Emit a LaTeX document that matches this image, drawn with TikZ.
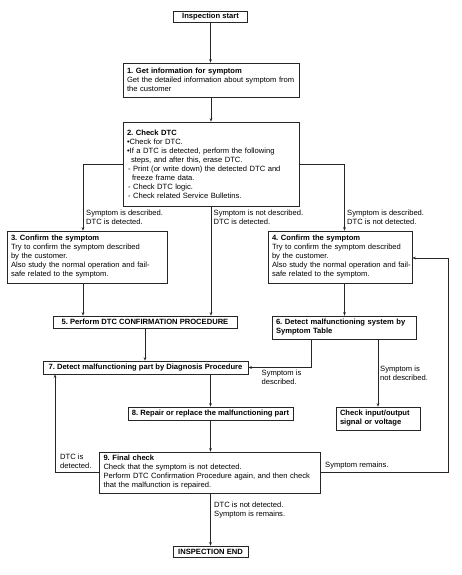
\documentclass[tikz,border=0pt]{standalone}
\usepackage{fontspec}
\setmainfont{Liberation Sans}
\usetikzlibrary{arrows.meta}
\newcommand{\nbr}[1]{\mbox{#1}}
\begin{document}
\frenchspacing
\begin{tikzpicture}[x=1pt,y=-1pt,
  font=\fontsize{7.6}{9}\selectfont,
  box/.style={draw=black!85, line width=0.6pt, inner xsep=4pt, inner ysep=0pt, align=left, anchor=center},
  cbox/.style={draw=black!85, line width=0.6pt, inner xsep=0pt, inner ysep=0pt, align=center, anchor=center, font=\fontsize{7.6}{9}\selectfont\bfseries},
  lbl/.style={anchor=west, inner sep=0pt, align=left},
  arr/.style={draw=black!85, line width=0.6pt, -{Stealth[length=3.5pt,width=2.6pt]}},
  ln/.style={draw=black!85, line width=0.6pt}
]
\useasboundingbox (0,0) rectangle (461,575);

% nodes
\node[cbox, minimum width=74pt, minimum height=11pt] (start) at (210.5,16.5) {Inspection start};
\node[box, text width=168pt, minimum height=34pt] (b1) at (211,80)
  {\nbr{\textbf{1. Get information for symptom}}\\\nbr{Get the detailed information about symptom from}\\the customer};
\node[box, text width=168pt, minimum height=84pt] (b2) at (211,164)
  {\textbf{2. Check DTC}\\•Check for DTC.\\\nbr{•If a DTC is detected, perform the following}\\\nbr{\hspace*{4pt}steps, and after this, erase DTC.}\\\nbr{\hspace*{1pt}- Print (or write down) the detected DTC and}\\\nbr{\hspace*{5pt}freeze frame data.}\\\nbr{\hspace*{1pt}- Check DTC logic.}\\\nbr{\hspace*{1pt}- Check related Service Bulletins.}};
\node[box, text width=152pt, minimum height=52pt] (b3) at (87,257)
  {\textbf{3. Confirm the symptom}\\\nbr{Try to confirm the symptom described}\\by the customer.\\\nbr{Also study the normal operation and fail-}\\\nbr{safe related to the symptom.}};
\node[box, text width=136pt, minimum height=52pt] (b4) at (340,257)
  {\textbf{4. Confirm the symptom}\\\nbr{Try to confirm the symptom described}\\by the customer.\\\nbr{Also study the normal operation and fail-}\\\nbr{safe related to the symptom.}};
\node[cbox, minimum width=184pt, minimum height=12pt] (b5) at (145,322) {5. Perform DTC CONFIRMATION PROCEDURE};
\node[box, text width=136pt, minimum height=23pt, font=\fontsize{7.6}{9}\selectfont\bfseries] (b6) at (344,327.5)
  {\nbr{6. Detect malfunctioning system by}\\Symptom Table};
\node[cbox, minimum width=205pt, minimum height=13pt] (b7) at (145.5,367.5) {7. Detect malfunctioning part by Diagnosis Procedure};
\node[cbox, minimum width=165pt, minimum height=13pt] (b8) at (210.5,413.5) {8. Repair or replace the malfunctioning part};
\node[box, text width=76pt, minimum height=23pt, font=\fontsize{7.6}{9}\selectfont\bfseries] (chk) at (378,418.5)
  {\nbr{Check input/output}\\\nbr{signal or voltage}};
\node[box, text width=213pt, minimum height=41pt] (b9) at (210,472.5)
  {\textbf{9. Final check}\\\nbr{Check that the symptom is not detected.}\\\nbr{Perform DTC Confirmation Procedure again, and then check}\\\nbr{that the malfunction is repaired.}};
\node[cbox, minimum width=75pt, minimum height=11pt] (end) at (210.5,551.5) {INSPECTION END};

% labels
\node[lbl] (lL) at (86,217) {Symptom is described.\\DTC is detected.};
\node[lbl] (lM) at (213.5,217) {Symptom is not described.\\DTC is detected.};
\node[lbl] (lR) at (347,217) {Symptom is described.\\DTC is not detected.};
\node[lbl] (l6a) at (261.5,377.5) {Symptom is\\described.};
\node[lbl] (l6b) at (380,373) {Symptom is\\not described.};
\node[lbl] (lrem) at (325,466) {Symptom remains.};
\node[lbl] (ldtc) at (60,461) {DTC is\\detected.};
\node[lbl] (lend) at (214,510) {DTC is not detected.\\Symptom is remains.};

% helper coordinates
\coordinate (cL) at (83,0);
\coordinate (cR) at (344.5,0);
\coordinate (c6a) at (311.5,0);
\coordinate (lpR) at (448,258);
\coordinate (lpL) at (55,0);

% connectors
\draw[arr] (start.south) -- (start.south |- b1.north);
\draw[arr] (b1.south) -- (b2.north);
\draw[arr] (b2.west) -| (cL |- b3.north);
\draw[arr] (b2.east) -| (cR |- b4.north);
\draw[arr] (b2.south) -- (b2.south |- b5.north);
\draw[arr] (cL |- b3.south) -- (cL |- b5.north);
\draw[arr] (b5.south) -- (b5.south |- b7.north);
\draw[arr] (cR |- b4.south) -- (cR |- b6.north);
\draw[arr] (c6a |- b6.south) |- (b7.east);
\draw[arr] (chk.north |- b6.south) -- (chk.north);
\draw[arr] (b8.north |- b7.south) -- (b8.north);
\draw[arr] (b8.south) -- (b8.south |- b9.north);
\draw[arr] (end.north |- b9.south) -- (end.north);
\draw[arr] (b9.east) -| (lpR) -- (b4.east |- lpR);
\draw[arr] (b9.west) -| (lpL |- b7.south);
\end{tikzpicture}
\end{document}
